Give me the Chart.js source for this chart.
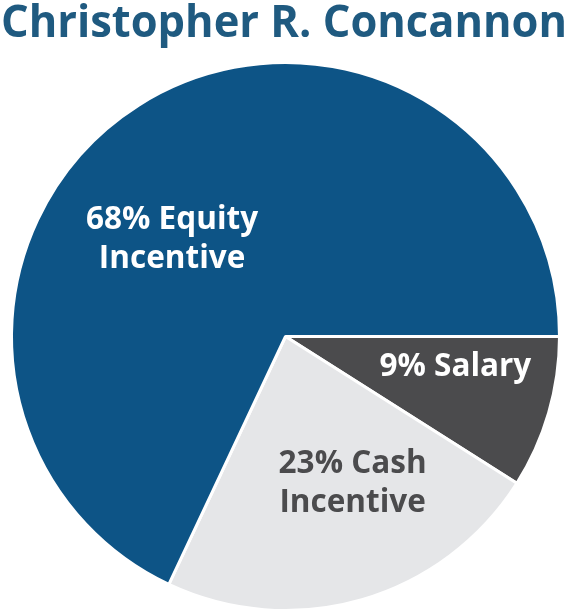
<!DOCTYPE html>
<html>
<head>
<meta charset="utf-8">
<script src="https://cdn.jsdelivr.net/npm/chart.js@4/dist/chart.umd.min.js"></script>
<style>
html,body{margin:0;padding:0;background:#fff;}
#wrap{position:relative;width:569px;height:615px;}
</style>
</head>
<body>
<div id="wrap"><canvas id="c" width="569" height="615"></canvas></div>
<script>
const titleText = "Christopher R. Concannon";
const categories = ["Salary", "Cash Incentive", "Equity Incentive"];
const values = [9, 23, 68];
const labelLines = [["9% Salary"], ["23% Cash", "Incentive"], ["68% Equity", "Incentive"]];
const colors = ["#4b4b4d", "#e5e6e8", "#0d5486"];
const labelColors = ["#ffffff", "#4b4b4d", "#ffffff"];
// label anchor offsets relative to pie centre, in units of radius
const labelOffsets = [[0.62, 0.11], [0.245, 0.537], [-0.414, -0.354]];

const overlay = {
  id: 'overlay',
  afterDraw(chart) {
    const ctx = chart.ctx;
    ctx.save();
    ctx.fillStyle = '#1f5a80';
    ctx.font = 'bold 43px "Open Sans"';
    ctx.textAlign = 'left';
    ctx.textBaseline = 'alphabetic';
    const w = ctx.measureText(titleText).width;
    const sx = 566 / w;
    ctx.save();
    ctx.translate(1, 37);
    ctx.scale(sx, 1.05);
    ctx.fillText(titleText, 0, 0);
    ctx.restore();
    const meta = chart.getDatasetMeta(0);
    meta.data.forEach((arc, i) => {
      const r = arc.outerRadius;
      const cx = arc.x + labelOffsets[i][0] * r;
      const cy = arc.y + labelOffsets[i][1] * r;
      const lines = labelLines[i];
      const lh = 39;
      ctx.fillStyle = labelColors[i];
      ctx.font = 'bold 31.5px "Open Sans"';
      ctx.textAlign = 'center';
      ctx.textBaseline = 'middle';
      lines.forEach((ln, k) => {
        ctx.fillText(ln, cx, cy + (k - (lines.length - 1) / 2) * lh);
      });
    });
    ctx.restore();
  }
};

new Chart(document.getElementById('c'), {
  type: 'pie',
  data: {
    labels: categories,
    datasets: [{
      data: values,
      backgroundColor: colors,
      borderColor: '#ffffff',
      borderWidth: 3
    }]
  },
  options: {
    responsive: false,
    animation: false,
    rotation: 90,
    layout: { padding: { left: 10, right: 8, top: 61, bottom: 3 } },
    plugins: { legend: { display: false }, tooltip: { enabled: false }, title: { display: false } }
  },
  plugins: [overlay]
});
</script>
</body>
</html>
